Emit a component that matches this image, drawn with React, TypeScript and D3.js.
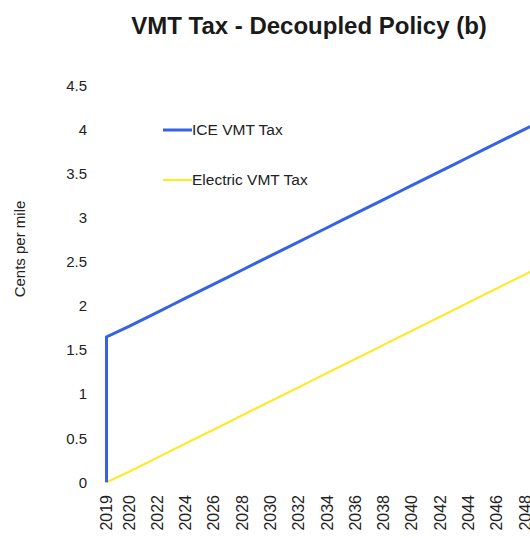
import React from "react";
import * as d3 from "d3";

const TITLE = "VMT Tax - Decoupled Policy (b)";
const Y_LABEL = "Cents per mile";

const iceYears = [2019, 2019, 2020, 2021, 2022, 2023, 2024, 2025, 2026, 2027, 2028, 2029, 2030, 2031, 2032, 2033, 2034, 2035, 2036, 2037, 2038, 2039, 2040, 2041, 2042, 2043, 2044, 2045, 2046, 2047, 2048, 2049, 2050];
const iceValues = [0, 1.65, 1.77, 1.85, 1.93, 2.01, 2.09, 2.17, 2.25, 2.33, 2.41, 2.49, 2.57, 2.65, 2.73, 2.81, 2.89, 2.97, 3.05, 3.13, 3.21, 3.29, 3.37, 3.45, 3.53, 3.61, 3.69, 3.77, 3.85, 3.93, 4.01, 4.09, 4.17];

const elecYears = [2019, 2020, 2021, 2022, 2023, 2024, 2025, 2026, 2027, 2028, 2029, 2030, 2031, 2032, 2033, 2034, 2035, 2036, 2037, 2038, 2039, 2040, 2041, 2042, 2043, 2044, 2045, 2046, 2047, 2048, 2049, 2050];
const elecValues = [0, 0.12, 0.2, 0.28, 0.36, 0.44, 0.52, 0.6, 0.68, 0.76, 0.84, 0.92, 1.0, 1.08, 1.16, 1.24, 1.32, 1.4, 1.48, 1.56, 1.64, 1.72, 1.8, 1.88, 1.96, 2.04, 2.12, 2.2, 2.28, 2.36, 2.44, 2.52];

const xTicks = [2019, 2020, 2022, 2024, 2026, 2028, 2030, 2032, 2034, 2036, 2038, 2040, 2042, 2044, 2046, 2048];
const yTicks = [0, 0.5, 1, 1.5, 2, 2.5, 3, 3.5, 4, 4.5];

const seriesNames = ["ICE VMT Tax", "Electric VMT Tax"];
const seriesColors = ["#3563e3", "#fde92e"];

const W = 530;
const H = 538;
const FONT = "'Liberation Sans', Arial, sans-serif";

export default function App() {
  const x = d3.scaleLinear().domain([2019, 2020, 2048]).range([106.5, 129, 525]);
  const y = d3.scaleLinear().domain([0, 4.5]).range([482.3, 85.9]);

  const line = d3
    .line<[number, number]>()
    .x((d) => x(d[0]))
    .y((d) => y(d[1]));

  const ice: [number, number][] = iceYears.map((yr, i) => [yr, iceValues[i]]);
  const elec: [number, number][] = elecYears.map((yr, i) => [yr, elecValues[i]]);

  const legendY = [130, 180];

  return (
    <div style={{ position: "absolute", left: 0, top: 0, width: W, height: H, overflow: "hidden", background: "#fff" }}>
      <svg width={W} height={H} style={{ display: "block" }} fontFamily={FONT}>
        <rect width={W} height={H} fill="#fff" />
        <text x={309} y={34} textAnchor="middle" fontSize={24} fontWeight="bold" fill="#1a1a1a">
          {TITLE}
        </text>
        <text
          transform={`translate(25,249) rotate(-90)`}
          textAnchor="middle"
          fontSize={15}
          fill="#222"
        >
          {Y_LABEL}
        </text>
        {yTicks.map((t) => (
          <text key={t} x={87} y={y(t)} dy="0.35em" textAnchor="end" fontSize={15} fill="#222">
            {t}
          </text>
        ))}
        {xTicks.map((t) => (
          <text
            key={t}
            transform={`translate(${x(t)},495) rotate(-90)`}
            textAnchor="end"
            dy="0.35em"
            fontSize={16}
            fill="#222"
          >
            {t}
          </text>
        ))}
        <path d={line(elec) || ""} fill="none" stroke={seriesColors[1]} strokeWidth={2.2} />
        <path d={line(ice) || ""} fill="none" stroke={seriesColors[0]} strokeWidth={3} strokeLinejoin="miter" />
        {seriesNames.map((n, i) => (
          <g key={n}>
            <line x1={163} x2={192} y1={legendY[i]} y2={legendY[i]} stroke={seriesColors[i]} strokeWidth={i === 0 ? 3 : 2.2} />
            <text x={192} y={legendY[i]} dy="0.35em" fontSize={15.5} fill="#222">
              {n}
            </text>
          </g>
        ))}
      </svg>
    </div>
  );
}
